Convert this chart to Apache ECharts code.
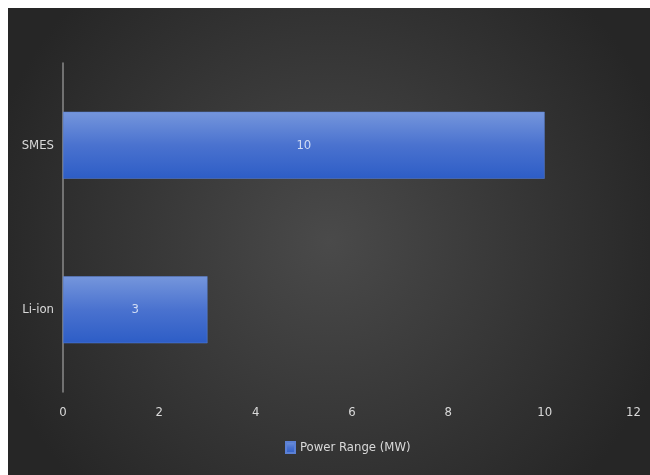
<!DOCTYPE html>
<html>
<head>
<meta charset="utf-8">
<script src="https://cdn.jsdelivr.net/npm/echarts@6/dist/echarts.min.js"></script>
<style>
html,body{margin:0;padding:0;background:#ffffff;width:650px;height:475px;overflow:hidden;}
#chart{position:absolute;left:8px;top:8px;width:642px;height:467px;}
</style>
</head>
<body>
<div id="chart"></div>
<script>
const categories = ['Li-ion', 'SMES'];
const powerRange = [3, 10];
const seriesName = 'Power Range (MW)';
const xTicks = [0, 2, 4, 6, 8, 10, 12];

const FONT = '"Liberation Sans Narrow", "DejaVu Sans Condensed", "Open Sans", sans-serif';
const chart = echarts.init(document.getElementById('chart'));
const barGrad = new echarts.graphic.LinearGradient(0, 0, 0, 1, [
  {offset: 0, color: '#7596dc'},
  {offset: 0.5, color: '#4a72cf'},
  {offset: 1, color: '#2d5dc6'}
]);
chart.setOption({
  backgroundColor: new echarts.graphic.RadialGradient(0.5, 0.5, 0.75, [
    {offset: 0, color: '#4a4a4a'},
    {offset: 1, color: '#262626'}
  ]),
  animation: false,
  grid: {left: 55, right: 9, top: 55, bottom: 83},
  legend: {
    data: [seriesName],
    left: 272,
    top: 428,
    itemWidth: 9,
    itemHeight: 11,
    itemGap: 2,
    textStyle: {color: '#d9d9d9', fontFamily: FONT, fontSize: 13},
    icon: 'rect'
  },
  xAxis: {
    type: 'value',
    min: xTicks[0],
    max: xTicks[xTicks.length - 1],
    interval: 2,
    axisLine: {show: false},
    axisTick: {show: false},
    splitLine: {show: false},
    axisLabel: {color: '#d9d9d9', fontFamily: FONT, fontSize: 13, margin: 14, alignMaxLabel: 'right'}
  },
  yAxis: {
    type: 'category',
    data: categories,
    axisLine: {show: true, lineStyle: {color: '#8a8a8a', width: 1.5}},
    axisTick: {show: false},
    axisLabel: {color: '#d9d9d9', fontFamily: FONT, fontSize: 13, margin: 9}
  },
  series: [{
    name: seriesName,
    type: 'bar',
    data: powerRange,
    barWidth: 67,
    itemStyle: {color: barGrad, borderColor: '#5b80d4', borderWidth: 0.5},
    label: {show: true, position: 'inside', color: '#d0dcf4', fontFamily: FONT, fontSize: 13}
  }]
});
</script>
</body>
</html>
